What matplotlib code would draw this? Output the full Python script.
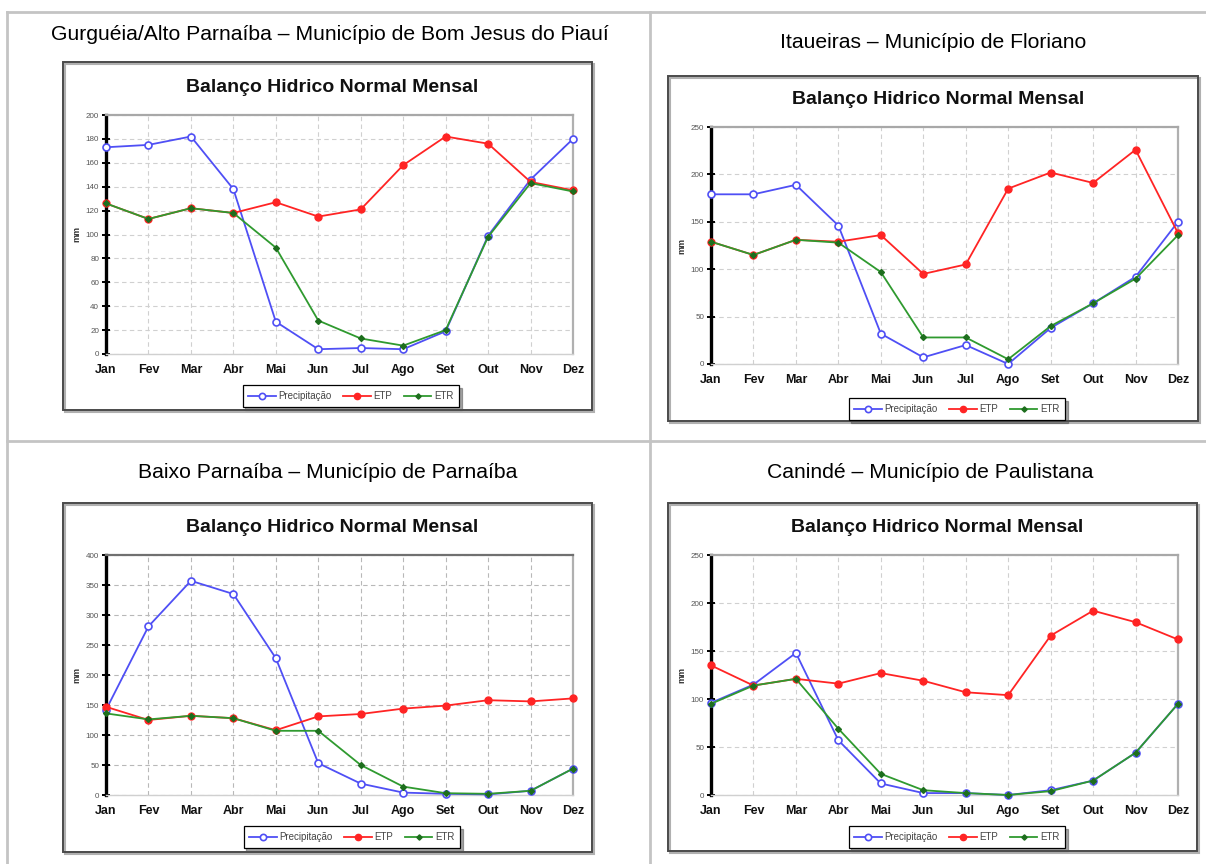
import matplotlib
matplotlib.use("Agg")
import matplotlib.pyplot as plt
from matplotlib.lines import Line2D
from matplotlib.patches import Rectangle

plt.rcParams['font.family'] = ['Liberation Sans', 'DejaVu Sans']

W, H = 1206, 864

months = ["Jan", "Fev", "Mar", "Abr", "Mai", "Jun", "Jul", "Ago", "Set", "Out", "Nov", "Dez"]
series_names = ["Precipitação", "ETP", "ETR"]
chart_title = "Balanço Hidrico Normal Mensal"

# Gurguéia/Alto Parnaíba – Bom Jesus do Piauí
bj_prec = [173, 175, 182, 138, 27, 4, 5, 4, 19, 99, 146, 180]
bj_etp = [126, 113, 122, 118, 127, 115, 121, 158, 182, 176, 144, 137]
bj_etr = [126, 113, 122, 118, 89, 28, 13, 7, 20, 98, 143, 136]

# Itaueiras – Floriano
fl_prec = [179, 179, 189, 146, 32, 7, 20, 0, 38, 64, 92, 150]
fl_etp = [129, 115, 131, 129, 136, 95, 105, 185, 202, 191, 226, 138]
fl_etr = [129, 115, 131, 128, 97, 28, 28, 5, 40, 64, 90, 136]

# Baixo Parnaíba – Parnaíba
pa_prec = [142, 281, 357, 335, 228, 53, 19, 4, 2, 1, 7, 44]
pa_etp = [147, 125, 132, 128, 108, 131, 135, 144, 149, 158, 156, 161]
pa_etr = [136, 126, 132, 128, 107, 107, 50, 14, 3, 2, 7, 44]

# Canindé – Paulistana
pl_prec = [96, 115, 148, 57, 12, 2, 2, 0, 5, 15, 44, 95]
pl_etp = [135, 114, 121, 116, 127, 119, 107, 104, 166, 192, 180, 162]
pl_etr = [95, 114, 121, 69, 22, 5, 2, 0, 4, 15, 44, 95]

panels = [
    dict(cell="Gurguéia/Alto Parnaíba – Município de Bom Jesus do Piauí",
         data=(bj_prec, bj_etp, bj_etr), ymax=200, ystep=20,
         cell_xy=(330, 35), frame=(63, 62, 592, 410), axes=(106, 115, 573, 354),
         title_y=88, legend_xy=(351, 396), mm_x=77, dark=False),
    dict(cell="Itaueiras – Município de Floriano",
         data=(fl_prec, fl_etp, fl_etr), ymax=250, ystep=50,
         cell_xy=(933, 43), frame=(668, 76, 1198, 421), axes=(711, 127, 1178, 364),
         title_y=99, legend_xy=(957, 409), mm_x=682, dark=False),
    dict(cell="Baixo Parnaíba – Município de Parnaíba",
         data=(pa_prec, pa_etp, pa_etr), ymax=400, ystep=50,
         cell_xy=(328, 472), frame=(63, 503, 592, 852), axes=(106, 555, 573, 795),
         title_y=528, legend_xy=(352, 837), mm_x=77, dark=True),
    dict(cell="Canindé – Município de Paulistana",
         data=(pl_prec, pl_etp, pl_etr), ymax=250, ystep=50,
         cell_xy=(930, 472), frame=(668, 503, 1197, 851), axes=(711, 555, 1178, 795),
         title_y=528, legend_xy=(957, 837), mm_x=682, dark=False),
]

BLUE = "#4f4ff5"
RED = "#ff2424"
GREEN = "#2f9a2f"
DKGREEN = "#1d6e1d"


def fx(x):
    return x / W


def fy(y):
    return 1 - y / H


fig = plt.figure(figsize=(W / 100, H / 100), dpi=100)
fig.patch.set_facecolor("white")

# table grid
tbl = "#c4c4c4"
for (x0, y0, x1, y1) in [(7, 12, 1206, 12), (7, 12, 7, 864), (650, 12, 650, 864), (7, 441, 1206, 441)]:
    fig.add_artist(Line2D([fx(x0), fx(x1)], [fy(y0), fy(y1)], color=tbl, lw=2, transform=fig.transFigure))

for p in panels:
    # cell caption
    fig.text(fx(p["cell_xy"][0]), fy(p["cell_xy"][1]), p["cell"], ha="center", va="center",
             fontsize=15.2, color="black")

    # chart frame with a soft shadow
    x0, y0, x1, y1 = p["frame"]
    fig.add_artist(Rectangle((fx(x0 + 2), fy(y1 + 2)), fx(x1 - x0), (y1 - y0) / H, transform=fig.transFigure,
                             fill=False, edgecolor="#b0b0b0", lw=1.5))
    fig.add_artist(Rectangle((fx(x0), fy(y1)), fx(x1 - x0), (y1 - y0) / H, transform=fig.transFigure,
                             fill=False, edgecolor="#4a4a4a", lw=1.4))

    fig.text(fx((x0 + x1) / 2 + 5), fy(p["title_y"]), chart_title, ha="center", va="center",
             fontsize=14, fontweight="bold", color="#111111")

    l, t, r, b = p["axes"]
    ax = fig.add_axes([fx(l), fy(b), (r - l) / W, (b - t) / H])
    prec, etp, etr = p["data"]
    x = list(range(len(months)))
    h1, = ax.plot(x, prec, color=BLUE, lw=1.3, marker="o", ms=5, mfc="white", mec=BLUE, mew=1.2,
                  clip_on=False, zorder=3)
    h2, = ax.plot(x, etp, color=RED, lw=1.3, marker="o", ms=5, mfc=RED, mec=RED,
                  clip_on=False, zorder=4)
    h3, = ax.plot(x, etr, color=GREEN, lw=1.3, marker="D", ms=3, mfc=DKGREEN, mec=DKGREEN,
                  clip_on=False, zorder=5)

    ax.set_xlim(0, 11)
    ax.set_ylim(0, p["ymax"])
    ax.set_xticks(x)
    ax.set_xticklabels([])
    for i, m in enumerate(months):
        ax.annotate(m, xy=(i, 0), xycoords=("data", "axes fraction"), xytext=(0, -14),
                    textcoords="offset points", ha="center", va="baseline",
                    fontsize=9, fontweight="bold", color="#111111", annotation_clip=False)
    ax.set_yticks(range(0, p["ymax"] + 1, p["ystep"]))
    ax.tick_params(axis="x", length=0)
    ax.tick_params(axis="y", direction="inout", length=6, width=1.4, color="black",
                   labelsize=5.8, labelcolor="#555555", pad=2)

    gcol = "#b8b8b8" if p["dark"] else "#d0d0d0"
    ax.grid(True, color=gcol, lw=0.8, linestyle=(0, (4, 3)))
    ax.set_axisbelow(True)

    ax.spines["left"].set_color("black")
    ax.spines["left"].set_linewidth(2.4)
    ax.spines["top"].set_color("#707070" if p["dark"] else "#a8a8a8")
    ax.spines["top"].set_linewidth(1.6)
    ax.spines["right"].set_color("#b0b0b0")
    ax.spines["right"].set_linewidth(1.6)
    ax.spines["bottom"].set_color("#d0d0d0")
    ax.spines["bottom"].set_linewidth(1.0)

    fig.text(fx(p["mm_x"]), fy((t + b) / 2), "mm", rotation=90, ha="center", va="center",
             fontsize=6.5, fontweight="bold", color="#333333")

    leg = fig.legend([h1, h2, h3], series_names, loc="center", ncol=3,
                     bbox_to_anchor=(fx(p["legend_xy"][0]), fy(p["legend_xy"][1])),
                     bbox_transform=fig.transFigure, fontsize=7, frameon=True, fancybox=False,
                     shadow=True, edgecolor="black", handlelength=2.8, columnspacing=1.2,
                     handletextpad=0.3, borderpad=0.6, markerscale=0.9)
    leg.get_frame().set_linewidth(0.9)
    for txt in leg.get_texts():
        txt.set_color("#444444")

fig.savefig("out.png", dpi=100, facecolor="white")
